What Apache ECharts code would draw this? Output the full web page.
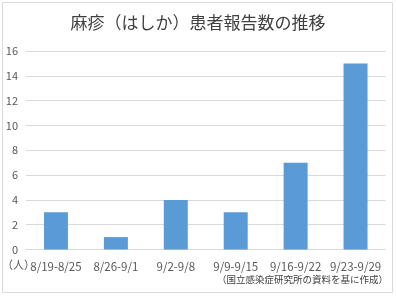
<!DOCTYPE html>
<html><head><meta charset="utf-8">
<script src="https://cdn.jsdelivr.net/npm/echarts@6/dist/echarts.min.js"></script>
<style>html,body{margin:0;padding:0;background:#fff}#c{width:396px;height:297px}</style>
</head><body><div id="c"></div>
<script>
const categories = ['8/19-8/25','8/26-9/1','9/2-9/8','9/9-9/15','9/16-9/22','9/23-9/29'];
const values = [3, 1, 4, 3, 7, 15];
const titleText = '麻疹（はしか）患者報告数の推移';
const unitText = '（人）';
const sourceText = '（国立感染症研究所の資料を基に作成）';
const yMin = 0, yMax = 16, yInterval = 2;

const font = '"Noto Sans CJK JP", "Noto Sans", sans-serif';
const chart = echarts.init(document.getElementById('c'), null, {renderer:'canvas'});
chart.setOption({
  animation: false,
  backgroundColor: '#fff',
  title: {
    text: titleText, left: 'center', top: 9,
    textStyle: {fontFamily: font, fontSize: 17, fontWeight: 'normal', color: '#404040'}
  },
  grid: {left: 26, right: 10.5, top: 51, bottom: 47.5, containLabel: false},
  xAxis: {
    type: 'category', data: categories,
    axisLine: {show: true, lineStyle: {color: '#d9d9d9'}},
    axisTick: {show: false},
    axisLabel: {color: '#595959', fontSize: 11.5, fontFamily: font, margin: 11, interval: 0}
  },
  yAxis: {
    type: 'value', min: yMin, max: yMax, interval: yInterval,
    axisLine: {show: false}, axisTick: {show: false},
    splitLine: {lineStyle: {color: '#d9d9d9'}},
    axisLabel: {color: '#595959', fontSize: 11, fontFamily: font, margin: 8}
  },
  series: [{
    type: 'bar', data: values, barWidth: 24,
    itemStyle: {color: '#5B9BD5'}
  }],
  graphic: [
    {type: 'rect', shape: {x: 2.5, y: 2.5, width: 390, height: 290}, style: {fill: 'none', stroke: '#d9d9d9', lineWidth: 1}, silent: true, z: -1},
    {type: 'text', left: 2, top: 259, style: {text: unitText, font: '11px ' + font, fill: '#595959'}},
    {type: 'text', right: 8, top: 275, style: {text: sourceText, font: '9.5px ' + font, fill: '#404040'}}
  ]
});
</script></body></html>
